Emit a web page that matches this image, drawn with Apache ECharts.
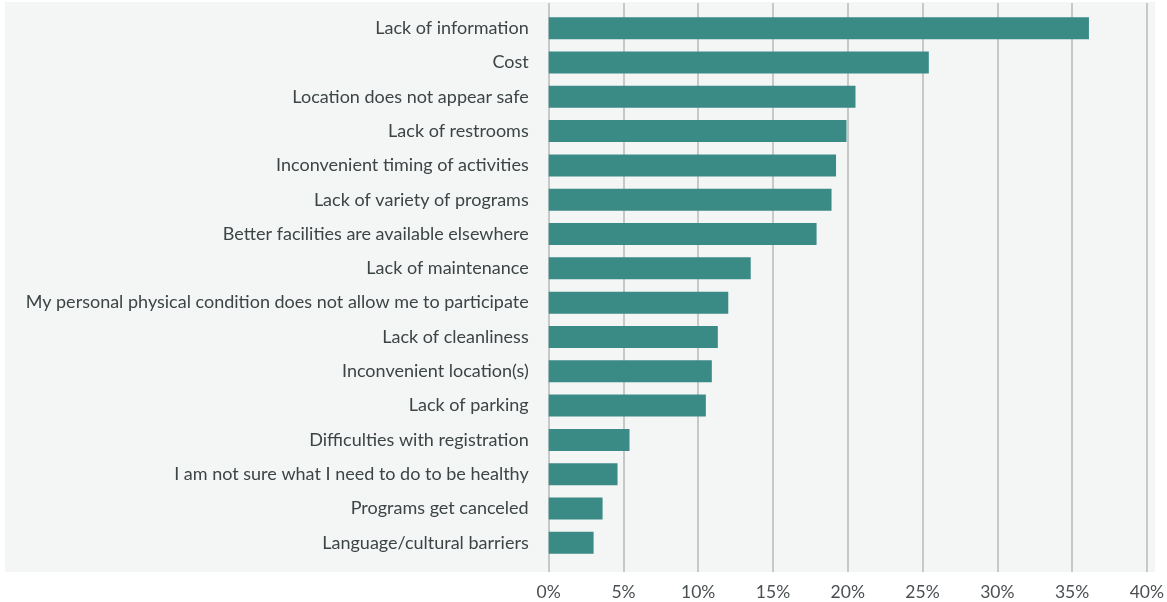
<!DOCTYPE html>
<html>
<head>
<meta charset="utf-8">
<script src="https://cdn.jsdelivr.net/npm/echarts@6/dist/echarts.min.js"></script>
<style>html,body{margin:0;padding:0;background:#fff}#c{width:1167px;height:602px}</style>
</head>
<body>
<div id="c"></div>
<script>
const categories = [
  "Lack of information",
  "Cost",
  "Location does not appear safe",
  "Lack of restrooms",
  "Inconvenient timing of activities",
  "Lack of variety of programs",
  "Better facilities are available elsewhere",
  "Lack of maintenance",
  "My personal physical condition does not allow me to participate",
  "Lack of cleanliness",
  "Inconvenient location(s)",
  "Lack of parking",
  "Difficulties with registration",
  "I am not sure what I need to do to be healthy",
  "Programs get canceled",
  "Language/cultural barriers"
];
const values = [36.1, 25.4, 20.5, 19.9, 19.2, 18.9, 17.9, 13.5, 12.0, 11.3, 10.9, 10.5, 5.4, 4.6, 3.6, 3.0];
const xTicks = [0, 5, 10, 15, 20, 25, 30, 35, 40];

const chart = echarts.init(document.getElementById('c'), null, {renderer: 'canvas'});
const FONT = 'Lato';
chart.setOption({
  backgroundColor: '#ffffff',
  animation: false,
  graphic: [{
    type: 'rect', z: -100, silent: true,
    shape: {x: 5, y: 2, width: 1150, height: 570},
    style: {fill: '#f4f6f6'}
  }],
  grid: [
    {left: 548.7, right: 19.7, top: 11, bottom: 42},
    {left: 548.7, right: 19.7, top: 3, bottom: 30}
  ],
  xAxis: [
    {gridIndex: 0, type: 'value', min: xTicks[0], max: xTicks[xTicks.length-1], interval: 5, show: false},
    {gridIndex: 1, type: 'value', min: xTicks[0], max: xTicks[xTicks.length-1], interval: 5,
     axisLine: {show: false}, axisTick: {show: false},
     splitLine: {show: true, lineStyle: {color: '#b8b8b8', width: 1.5}},
     axisLabel: {formatter: '{value}%', fontFamily: FONT, fontSize: 17.5, color: '#4a4f52', margin: 11}}
  ],
  yAxis: [
    {gridIndex: 0, type: 'category', data: categories, inverse: true,
     axisLine: {show: false}, axisTick: {show: false}, splitLine: {show: false},
     axisLabel: {fontFamily: FONT, fontSize: 18, color: '#3d4446', margin: 20, padding: [7, 0, 0, 0]}},
    {gridIndex: 1, type: 'value', show: false}
  ],
  series: [{
    type: 'bar', xAxisIndex: 0, yAxisIndex: 0, data: values,
    barCategoryGap: '36%',
    itemStyle: {color: '#3a8a86'}
  }]
});
</script>
</body>
</html>
